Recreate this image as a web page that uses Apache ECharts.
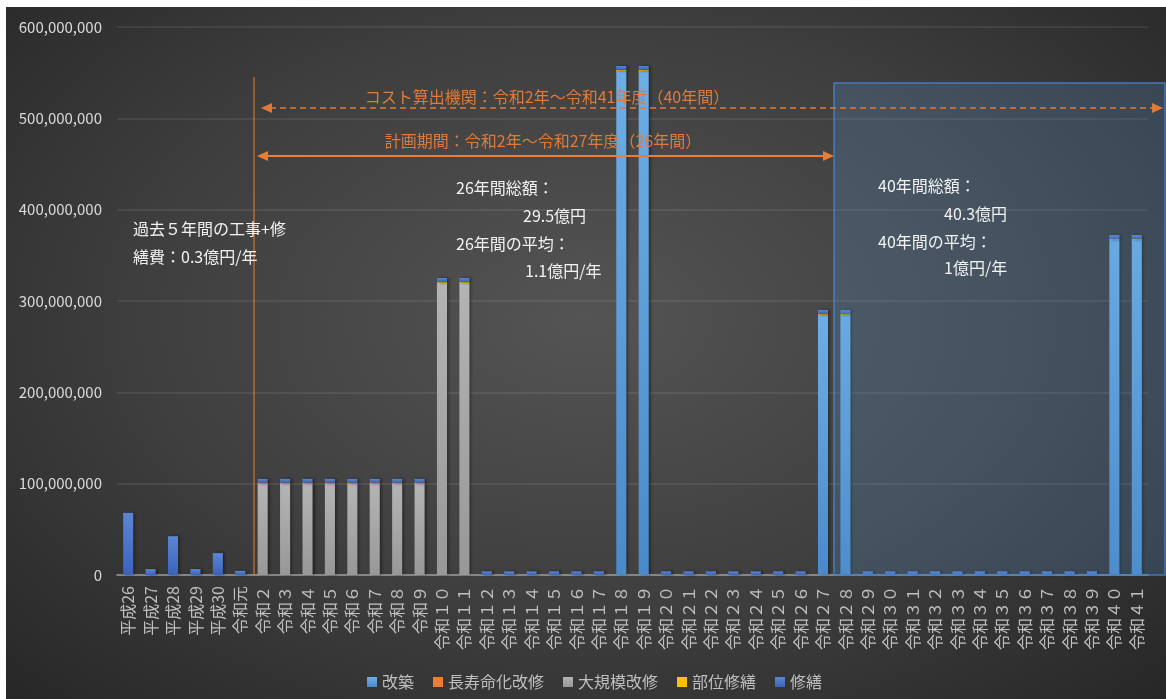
<!DOCTYPE html>
<html lang="ja">
<head>
<meta charset="utf-8">
<title>更新等費用の見通し</title>
<script src="https://cdn.jsdelivr.net/npm/echarts@6/dist/echarts.min.js"></script>
<style>
  html, body { margin: 0; padding: 0; background: #fff; }
  .wrap { position: relative; width: 1166px; height: 699px; background: #fff; }
  .bg {
    position: absolute; left: 6px; top: 7px; right: 0; bottom: 0;
    background: radial-gradient(ellipse at 50% 45%, #545454 0%, #3e3e3e 55%, #272727 100%);
  }
  #chart { position: absolute; left: 0; top: 0; width: 1166px; height: 699px; }
</style>
</head>
<body>
<div class="wrap">
  <div class="bg"></div>
  <div id="chart"></div>
</div>
<script>
// 年度（平成26〜令和41）
const categories = [
  '平成26', '平成27', '平成28', '平成29', '平成30', '令和元',
  '令和２', '令和３', '令和４', '令和５', '令和６', '令和７', '令和８', '令和９',
  '令和１０', '令和１１', '令和１２', '令和１３', '令和１４', '令和１５', '令和１６', '令和１７',
  '令和１８', '令和１９', '令和２０', '令和２１', '令和２２', '令和２３', '令和２４', '令和２５',
  '令和２６', '令和２７', '令和２８', '令和２９', '令和３０', '令和３１', '令和３２', '令和３３',
  '令和３４', '令和３５', '令和３６', '令和３７', '令和３８', '令和３９', '令和４０', '令和４１'
];

// 円
const kaichiku = [
  0, 0, 0, 0, 0, 0,
  0, 0, 0, 0, 0, 0, 0, 0,
  0, 0, 0, 0, 0, 0, 0, 0,
  552e6, 552e6, 0, 0, 0, 0, 0, 0,
  0, 285e6, 285e6, 0, 0, 0, 0, 0,
  0, 0, 0, 0, 0, 0, 367e6, 367e6
];

const chojumyo = [
  0, 0, 0, 0, 0, 0,
  0, 0, 0, 0, 0, 0, 0, 0,
  0, 0, 0, 0, 0, 0, 0, 0,
  0, 0, 0, 0, 0, 0, 0, 0,
  0, 0, 0, 0, 0, 0, 0, 0,
  0, 0, 0, 0, 0, 0, 0, 0
];

const daikibo = [
  0, 0, 0, 0, 0, 0,
  100e6, 100e6, 100e6, 100e6, 100e6, 100e6, 100e6, 100e6,
  320e6, 320e6, 0, 0, 0, 0, 0, 0,
  0, 0, 0, 0, 0, 0, 0, 0,
  0, 0, 0, 0, 0, 0, 0, 0,
  0, 0, 0, 0, 0, 0, 0, 0
];

const buiShuzen = [
  0, 0, 0, 0, 0, 0,
  1.2e6, 1.2e6, 1.2e6, 1.2e6, 1.2e6, 1.2e6, 1.2e6, 1.2e6,
  1.2e6, 1.2e6, 0, 0, 0, 0, 0, 0,
  1.2e6, 1.2e6, 0, 0, 0, 0, 0, 0,
  0, 1.2e6, 1.2e6, 0, 0, 0, 0, 0,
  0, 0, 0, 0, 0, 0, 1.2e6, 1.2e6
];

const shuzen = [
  68e6, 6.5e6, 42.5e6, 6.5e6, 24e6, 4.5e6,
  4e6, 4e6, 4e6, 4e6, 4e6, 4e6, 4e6, 4e6,
  4e6, 4e6, 4e6, 4e6, 4e6, 4e6, 4e6, 4e6,
  4e6, 4e6, 4e6, 4e6, 4e6, 4e6, 4e6, 4e6,
  4e6, 4e6, 4e6, 4e6, 4e6, 4e6, 4e6, 4e6,
  4e6, 4e6, 4e6, 4e6, 4e6, 4e6, 4e6, 4e6
];

const FONT = "'Noto Sans CJK JP', 'Noto Sans', sans-serif";
const ORANGE = '#ED7D31';

function grad(top, bottom) {
  return new echarts.graphic.LinearGradient(0, 0, 0, 1, [
    { offset: 0, color: top },
    { offset: 1, color: bottom }
  ]);
}

function barSeries(name, data, color) {
  return {
    name: name,
    type: 'bar',
    stack: 'total',
    data: data,
    barWidth: '45%',
    itemStyle: {
      color: color,
      shadowBlur: 3,
      shadowOffsetX: 2,
      shadowColor: 'rgba(0,0,0,0.45)'
    }
  };
}

function txt(text, x, y, fill, align) {
  return {
    type: 'text',
    z: 100,
    x: x,
    y: y,
    style: {
      text: text,
      fill: fill,
      font: '16px ' + FONT,
      align: align || 'left',
      verticalAlign: 'middle'
    }
  };
}

function arrowHead(tipX, y, dir, color) {
  // dir: -1 = points left, 1 = points right
  return {
    type: 'polygon',
    z: 90,
    shape: { points: [[tipX, y], [tipX - dir * 11, y - 5], [tipX - dir * 11, y + 5]] },
    style: { fill: color }
  };
}

const chart = echarts.init(document.getElementById('chart'));

const option = {
  backgroundColor: 'transparent',
  animation: false,
  textStyle: { fontFamily: FONT },
  grid: { left: 117, right: 18, top: 27, bottom: 124 },
  legend: {
    left: 362,
    top: 669,
    icon: 'rect',
    itemWidth: 10,
    itemHeight: 10,
    itemGap: 19,
    textStyle: { color: '#bfbfbf', fontSize: 16, fontFamily: FONT },
    itemStyle: { shadowBlur: 0, shadowOffsetX: 0 },
    data: ['改築', '長寿命化改修', '大規模改修', '部位修繕', '修繕']
  },
  xAxis: {
    type: 'category',
    data: categories,
    axisLine: { lineStyle: { color: '#9a9a9a', width: 1.5 } },
    axisTick: { show: false },
    axisLabel: {
      interval: 0,
      rotate: 90,
      margin: 11,
      color: '#bfbfbf',
      fontSize: 16,
      fontFamily: FONT
    }
  },
  yAxis: {
    type: 'value',
    min: 0,
    max: 600000000,
    interval: 100000000,
    axisLine: { show: false },
    axisTick: { show: false },
    splitLine: { lineStyle: { color: 'rgba(255,255,255,0.1)', width: 1.5 } },
    axisLabel: {
      margin: 15,
      color: '#d9d9d9',
      fontSize: 15,
      fontFamily: FONT,
      formatter: v => v.toLocaleString('en-US')
    }
  },
  series: [
    barSeries('改築', kaichiku, grad('#6eaee6', '#4a8acb')),
    barSeries('長寿命化改修', chojumyo, ORANGE),
    barSeries('大規模改修', daikibo, grad('#b4b4b4', '#989898')),
    barSeries('部位修繕', buiShuzen, '#FFC000'),
    barSeries('修繕', shuzen, grad('#5b86d4', '#3a64bc'))
  ],
  graphic: [
    // 計画開始の縦線
    { type: 'line', z: 90, shape: { x1: 254, y1: 77, x2: 254, y2: 575 }, style: { stroke: ORANGE, lineWidth: 1 } },
    // 40年間の範囲
    {
      type: 'rect', z: 50,
      shape: { x: 834, y: 83, width: 331, height: 492 },
      style: { fill: 'rgba(91,155,213,0.22)', stroke: 'rgba(70,130,200,0.9)', lineWidth: 1.5 }
    },
    // コスト算出期間（点線矢印）
    { type: 'line', z: 90, shape: { x1: 270, y1: 108, x2: 1154, y2: 108 }, style: { stroke: '#e07a3a', lineWidth: 1.5, lineDash: [6, 4] } },
    arrowHead(261, 108, -1, '#e07a3a'),
    arrowHead(1163, 108, 1, '#e07a3a'),
    // 計画期間（実線矢印）
    { type: 'line', z: 90, shape: { x1: 266, y1: 156, x2: 825, y2: 156 }, style: { stroke: ORANGE, lineWidth: 2 } },
    arrowHead(257, 156, -1, ORANGE),
    arrowHead(834, 156, 1, ORANGE),
    txt('コスト算出機関：令和2年～令和41年度（40年間）', 547, 97, '#e07a3a', 'center'),
    txt('計画期間：令和2年～令和27年度（26年間）', 543, 141, '#e07a3a', 'center'),
    txt('過去５年間の工事+修', 133, 229, '#f2f2f2'),
    txt('繕費：0.3億円/年', 133, 257, '#f2f2f2'),
    txt('26年間総額：', 456, 188, '#f2f2f2'),
    txt('29.5億円', 523, 216, '#f2f2f2'),
    txt('26年間の平均：', 456, 244, '#f2f2f2'),
    txt('1.1億円/年', 525, 271, '#f2f2f2'),
    txt('40年間総額：', 878, 186, '#f2f2f2'),
    txt('40.3億円', 944, 214, '#f2f2f2'),
    txt('40年間の平均：', 878, 242, '#f2f2f2'),
    txt('1億円/年', 944, 268, '#f2f2f2')
  ]
};

chart.setOption(option);
window.addEventListener('resize', () => chart.resize());
</script>
</body>
</html>
